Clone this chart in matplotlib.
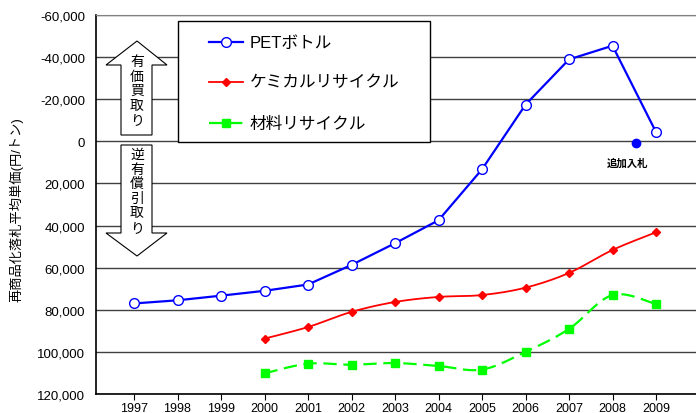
import numpy as np
import matplotlib
matplotlib.use("Agg")
import matplotlib.pyplot as plt
from matplotlib.lines import Line2D
from matplotlib.patches import Polygon, Rectangle
from matplotlib.ticker import FuncFormatter

plt.rcParams['font.family'] = ['Liberation Sans', 'Noto Sans CJK JP', 'DejaVu Sans']

# data (yen / ton, negative = paid to municipality)
years = [1997, 1998, 1999, 2000, 2001, 2002, 2003, 2004, 2005, 2006, 2007, 2008, 2009]
pet_bottle = [77000, 75500, 73300, 71000, 68000, 58700, 48400, 37500, 13300,
              -17400, -38900, -45400, -4400]
chem_years = [2000, 2001, 2002, 2003, 2004, 2005, 2006, 2007, 2008, 2009]
chemical = [93700, 88200, 81000, 76300, 73900, 73000, 69500, 62500, 51600, 43200]
material = [110200, 105600, 106100, 105300, 106700, 108400, 100000, 89100, 73000, 77300]
extra_bid_year = 2008.55
extra_bid_value = 1000

labels = ['PETボトル', 'ケミカルリサイクル', '材料リサイクル']

W, H = 696, 414


def smooth(x, y, n=20):
    # excel-like smoothed line (catmull-rom through the points)
    x = np.asarray(x, float)
    y = np.asarray(y, float)
    px = np.concatenate([[x[0]], x, [x[-1]]])
    py = np.concatenate([[y[0]], y, [y[-1]]])
    xs, ys = [], []
    for i in range(1, len(px) - 2):
        t = np.linspace(0, 1, n, endpoint=False)
        for p, out in ((px, xs), (py, ys)):
            p0, p1, p2, p3 = p[i - 1], p[i], p[i + 1], p[i + 2]
            c1 = p1 + (p2 - p0) / 6
            c2 = p2 - (p3 - p1) / 6
            out.extend((1 - t) ** 3 * p1 + 3 * (1 - t) ** 2 * t * c1
                       + 3 * (1 - t) * t ** 2 * c2 + t ** 3 * p2)
    xs.append(x[-1])
    ys.append(y[-1])
    return np.array(xs), np.array(ys)


def fpx(x, y):
    # pixel (from top-left) to figure fraction
    return x / W, 1 - y / H


fig = plt.figure(figsize=(W / 100, H / 100), dpi=100)
ax = fig.add_axes([96 / W, 19 / H, 1 - 96 / W, 379 / H])

ax.set_ylim(120000, -60000)
ax.set_xlim(1997 - 38 / 43.5, 2009 + 40 / 43.5)
ax.set_yticks(np.arange(-60000, 120001, 20000))
ax.set_xticks(years)
ax.yaxis.set_major_formatter(FuncFormatter(lambda v, p: f"{int(v):,}"))
ax.grid(axis='y', color='#404040', linewidth=1.0)
ax.set_axisbelow(True)
ax.spines['right'].set_visible(False)
ax.spines['top'].set_color('#808080')
ax.spines['left'].set_linewidth(1.2)
ax.spines['bottom'].set_linewidth(1.2)
ax.tick_params(axis='y', length=0, pad=8, labelsize=9.5)
ax.tick_params(axis='x', length=4, direction='out', pad=2, labelsize=9)

# PET bottle
pet_style = dict(color='#0000ff', linewidth=1.6, marker='o', markersize=7,
                 markerfacecolor='white', markeredgecolor='#0000ff',
                 markeredgewidth=1.0)
ax.plot(years, pet_bottle, zorder=5, **pet_style)

# chemical recycling
sx, sy = smooth(chem_years, chemical)
ax.plot(sx, sy, color='#ff0000', linewidth=1.3, zorder=4)
ax.plot(chem_years, chemical, linestyle='none', marker='D', markersize=4.5,
        color='#ff0000', zorder=4)

# material recycling
sx, sy = smooth(chem_years, material)
ax.plot(sx, sy, color='#00ff00', linewidth=1.6, dashes=(6, 3), zorder=4)
ax.plot(chem_years, material, linestyle='none', marker='s', markersize=5.5,
        color='#00ff00', zorder=4)

# additional bid
ax.plot([extra_bid_year], [extra_bid_value], linestyle='none', marker='o',
        markersize=6, color='#0000ff', zorder=5)
ax.text(extra_bid_year - 0.2, extra_bid_value + 9000, '追加入札', ha='center',
        va='center', fontsize=7.5, fontweight='bold')

ax.set_ylabel('再商品化落札平均単価(円/トン)', fontsize=9.5)
ax.yaxis.set_label_coords(-0.12, 0.49)

# legend box drawn by hand to match the original layout
fig.add_artist(Rectangle(fpx(178, 143), 252 / W, 121 / H, facecolor='white',
                         edgecolor='black', linewidth=1.0,
                         transform=fig.transFigure, zorder=6))
legend_lines = [
    dict(pet_style),
    dict(color='#ff0000', linewidth=1.3, marker='D', markersize=4.5),
    dict(color='#00ff00', linewidth=1.6, dashes=(6, 3), marker='s', markersize=5.5),
]
for row, (lab, style) in enumerate(zip(labels, legend_lines)):
    yy = [43, 83, 124][row]
    (x0, y0), (x1, _) = fpx(209, yy), fpx(243, yy)
    fig.add_artist(Line2D([x0, x1], [y0, y0], transform=fig.transFigure,
                          markevery=[], zorder=7, **style))
    fig.add_artist(Line2D([(x0 + x1) / 2], [y0], transform=fig.transFigure,
                          linestyle='none', zorder=7,
                          **{k: v for k, v in style.items()
                             if k not in ('linewidth', 'dashes')}))
    fig.text(250 / W, y0, lab, ha='left', va='center', fontsize=12, zorder=7)

# up / down arrows
up = [(137, 42), (167, 66), (152, 66), (152, 136), (121, 136), (121, 66), (106, 66)]
down = [(121, 146), (152, 146), (152, 234), (167, 234), (137, 257), (106, 234), (121, 234)]
for pts in (up, down):
    fig.add_artist(Polygon([fpx(x, y) for x, y in pts], closed=True,
                           facecolor='white', edgecolor='black', linewidth=0.8,
                           transform=fig.transFigure, zorder=6))
for i, ch in enumerate('有価買取り'):
    fig.text(*fpx(137, 62 + i * 14.6), ch, ha='center', va='center',
             fontsize=10, zorder=7)
for i, ch in enumerate('逆有償引取り'):
    fig.text(*fpx(137, 155 + i * 14.6), ch, ha='center', va='center',
             fontsize=10, zorder=7)

fig.savefig('out.png', dpi=100)
